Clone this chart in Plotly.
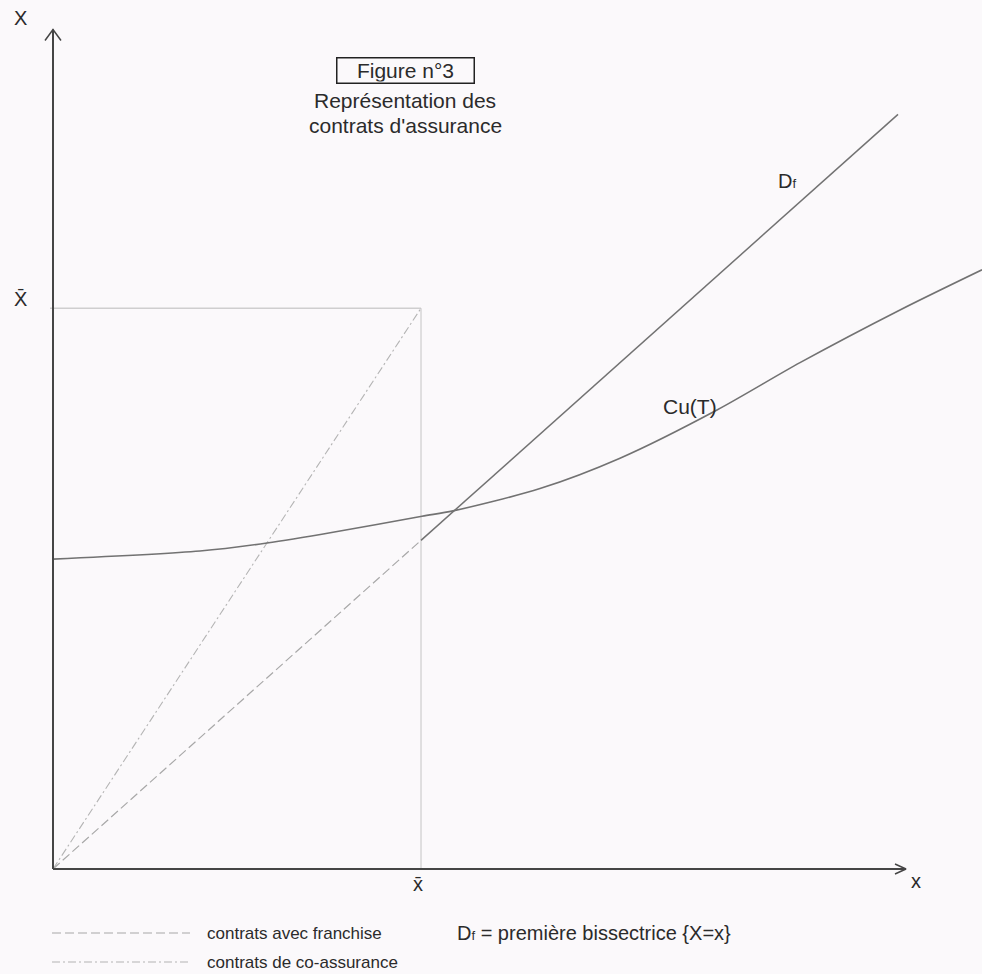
import plotly.graph_objects as go

# ---- data (units chosen so that Df is the first bisector X = x) ----
x_bar = 3.68          # x̄
X_bar = 6.28          # X̄
df_end = 8.45         # end of the Df line
x_axis_end = 8.53     # length of x axis
y_axis_end = 9.40     # length of X axis
cu_x = [0.0, 1.47, 2.14, 2.80, 3.69, 4.00, 4.87, 5.67, 6.64, 7.47, 8.47, 9.29]
cu_y = [3.47, 3.56, 3.65, 3.77, 3.95, 4.01, 4.26, 4.60, 5.14, 5.67, 6.26, 6.71]

W, H = 982, 974
XR = [-0.53, 9.29]
YR = [-1.176, 9.731]
px_x = (XR[1] - XR[0]) / W   # data units per pixel
px_y = (YR[1] - YR[0]) / H

AXC = "#454545"
CURVE = "#727272"
LIGHT = "#a8a8a8"
TXT = "#2b2b2b"
FONT = "Liberation Sans, Arial, sans-serif"

fig = go.Figure()

def line(xs, ys, color, width, dash="solid"):
    fig.add_trace(go.Scatter(x=xs, y=ys, mode="lines", hoverinfo="skip",
                             line=dict(color=color, width=width, dash=dash),
                             showlegend=False))

# rectangle x̄ / X̄
line([-3 * px_x, x_bar], [X_bar, X_bar], "#b9b9b9", 1)
line([x_bar, x_bar], [X_bar, 0], "#c4c4c4", 1)

# contrats avec franchise (along bisector up to x̄)
line([0, x_bar], [0, x_bar], LIGHT, 1.2, "9px,4px")
# contrats de co-assurance
line([0, x_bar], [0, X_bar], "#b4b4b4", 1.1, "8px,3px,2px,3px")

# Df solid part
line([x_bar, df_end], [x_bar, df_end], CURVE, 1.5)

# Cu(T)
fig.add_trace(go.Scatter(x=cu_x, y=cu_y, mode="lines", hoverinfo="skip",
                         line=dict(color=CURVE, width=1.6, shape="spline", smoothing=0.8),
                         showlegend=False))

# axes
line([0, 0], [0, y_axis_end], AXC, 2)
line([0, x_axis_end], [0, 0], AXC, 2)
# arrow heads
line([-8 * px_x, 0, 8 * px_x], [y_axis_end - 11 * px_y, y_axis_end, y_axis_end - 11 * px_y], AXC, 1.5)
line([x_axis_end - 11 * px_x, x_axis_end, x_axis_end - 11 * px_x], [5 * px_y, 0, -5 * px_y], AXC, 1.5)

ann = []
def txt(x, y, s, size=20, xref="x", yref="y", xanchor="center", **kw):
    ann.append(dict(x=x, y=y, text=s, xref=xref, yref=yref, showarrow=False,
                    xanchor=xanchor, yanchor="middle",
                    font=dict(family=FONT, size=size, color=TXT), **kw))

DF = "D<span style='font-size:13px'>f</span>"

txt(-33 * px_x, y_axis_end + 12 * px_y, "X", 20)
txt(-33 * px_x, X_bar + 9 * px_y, "X\u0304", 20)
txt(x_bar - 3 * px_x, -15 * px_y, "x\u0304", 20)
txt(x_axis_end + 10 * px_x, -12 * px_y, "x", 20)
txt(7.34, 7.70, DF, 20)
txt(6.37, 5.18, "Cu(T)", 21)

# title box
txt(405 / W, 1 - 70 / H, "Figure n°3", 21, xref="paper", yref="paper",
    bordercolor="#222", borderwidth=1.5, borderpad=1, width=134, height=22)
txt(405 / W, 1 - 101 / H, "Représentation des", 21, xref="paper", yref="paper")
txt(405 / W, 1 - 126 / H, "contrats d'assurance", 21, xref="paper", yref="paper")

# legend
leg_y1, leg_y2 = 933, 962
shapes = [
    dict(type="line", xref="paper", yref="paper", x0=52 / W, x1=190 / W,
         y0=1 - leg_y1 / H, y1=1 - leg_y1 / H, line=dict(color=LIGHT, width=1.2, dash="9px,4px")),
    dict(type="line", xref="paper", yref="paper", x0=52 / W, x1=190 / W,
         y0=1 - leg_y2 / H, y1=1 - leg_y2 / H, line=dict(color="#b4b4b4", width=1.1, dash="8px,3px,2px,3px")),
]
txt(205 / W, 1 - leg_y1 / H, "contrats avec franchise", 17, xref="paper", yref="paper", xanchor="left")
txt(205 / W, 1 - leg_y2 / H, "contrats de co-assurance", 17, xref="paper", yref="paper", xanchor="left")
txt(455 / W, 1 - leg_y1 / H, DF + " = première bissectrice {X=x}", 20,
    xref="paper", yref="paper", xanchor="left")

fig.update_layout(
    width=W, height=H, autosize=False,
    margin=dict(l=0, r=0, t=0, b=0),
    paper_bgcolor="#fbf9fb", plot_bgcolor="#fbf9fb",
    xaxis=dict(range=XR, visible=False, fixedrange=True),
    yaxis=dict(range=YR, visible=False, fixedrange=True),
    annotations=ann, shapes=shapes,
)

fig.write_html("out.html", config={"displayModeBar": False},
               post_script="document.body.style.margin='0';")
